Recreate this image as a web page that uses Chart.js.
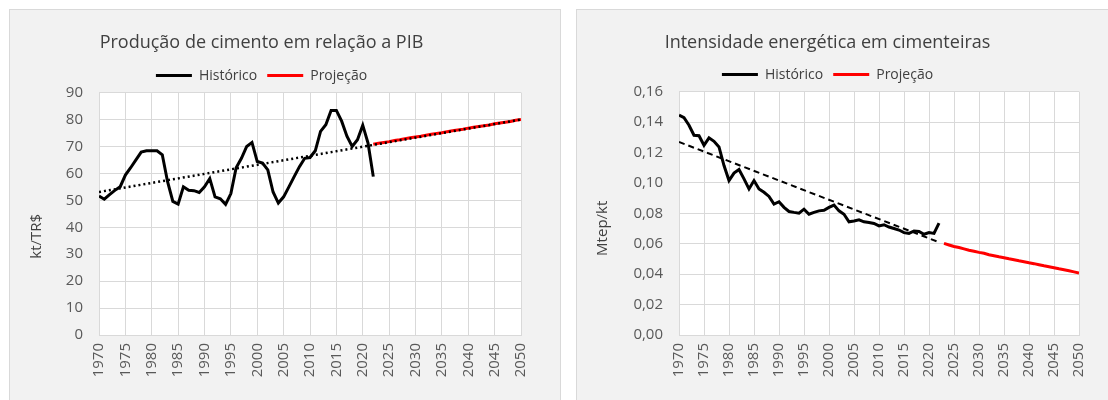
<!DOCTYPE html>
<html>
<head>
<meta charset="utf-8">
<script src="https://cdn.jsdelivr.net/npm/chart.js@4.4.1/dist/chart.umd.min.js"></script>
<style>
    html, body { margin: 0; padding: 0; background: #fff; width: 1108px; height: 400px; overflow: hidden; }
    .panel { position: absolute; top: 9px; height: 430px; background: #f2f2f2; border: 1px solid #d9d9d9; box-sizing: border-box; }
    #p1 { left: 9px; width: 552px; }
    #p2 { left: 576px; width: 560px; }
    canvas { position: absolute; top: 0; }
    #c1 { left: 2px; }
    #c2 { left: 576px; }
</style>
</head>
<body>
<div class="panel" id="p1"></div>
<div class="panel" id="p2"></div>
<canvas id="c1" width="526" height="400"></canvas>
<canvas id="c2" width="520" height="400"></canvas>
<script>
// anos do histórico e da projeção
const anoInicio = 1970;
const histAnos = Array.from({ length: 53 }, (_, i) => anoInicio + i);   // 1970..2022

// Produção de cimento / PIB (kt/TR$)
const cimentoHist = [
    51.6, 50.4, 52.1, 53.7, 55.0, 59.4, 62.1, 65.0, 67.9, 68.4,
    68.4, 68.4, 66.9, 56.9, 49.6, 48.6, 55.0, 53.7, 53.6, 52.9,
    55.0, 58.1, 51.3, 50.6, 48.5, 52.5, 62.1, 65.6, 70.0, 71.5,
    64.4, 63.8, 61.3, 53.1, 49.0, 51.3, 55.0, 58.8, 62.5, 65.6,
    65.9, 68.4, 75.6, 78.1, 83.4, 83.4, 79.4, 73.8, 70.0, 72.5,
    77.9, 71.3, 58.8
];
const cimentoProjAnos = Array.from({ length: 29 }, (_, i) => 2022 + i);  // 2022..2050
const cimentoProj = [
    70.8, 71.2, 71.5, 71.8, 72.2, 72.5, 72.9, 73.2, 73.5, 73.8,
    74.2, 74.5, 74.8, 75.1, 75.5, 75.8, 76.1, 76.4, 76.8, 77.1,
    77.4, 77.7, 78.0, 78.4, 78.7, 79.0, 79.3, 79.7, 80.0
];
const cimentoTendAnos = [1970, 2050];
const cimentoTend = [53.1, 80.0];

// Intensidade energética (Mtep/kt)
const intensHist = [
    0.1445, 0.1428, 0.1379, 0.1313, 0.1310, 0.1247, 0.1296, 0.1273, 0.1236, 0.1114,
    0.1015, 0.1064, 0.1088, 0.1026, 0.0960, 0.1015, 0.0960, 0.0938, 0.0911, 0.0861,
    0.0876, 0.0839, 0.0812, 0.0806, 0.0801, 0.0827, 0.0794, 0.0806, 0.0816, 0.0820,
    0.0839, 0.0854, 0.0816, 0.0794, 0.0744, 0.0750, 0.0757, 0.0744, 0.0739, 0.0733,
    0.0717, 0.0725, 0.0710, 0.0700, 0.0690, 0.0673, 0.0668, 0.0684, 0.0680, 0.0662,
    0.0673, 0.0668, 0.0735
];
const intensProjAnos = Array.from({ length: 28 }, (_, i) => 2023 + i);  // 2023..2050
const intensProj = [
    0.0602, 0.0592, 0.0582, 0.0575, 0.0566, 0.0557, 0.0551, 0.0543, 0.0537, 0.0528,
    0.0521, 0.0514, 0.0508, 0.0501, 0.0495, 0.0488, 0.0482, 0.0475, 0.0469, 0.0462,
    0.0455, 0.0449, 0.0442, 0.0435, 0.0429, 0.0422, 0.0415, 0.0408
];
const intensTendAnos = [1970, 2022];
const intensTend = [0.1269, 0.0610];

const xTicks = { min: 1970, max: 2050, step: 5 };

Chart.defaults.font.family = "'Open Sans', sans-serif";
Chart.defaults.color = '#595959';

const pontos = (xs, ys) => xs.map((x, i) => ({ x: x, y: ys[i] }));

// fundo branco da área de plotagem
const fundoPlot = {
    id: 'fundoPlot',
    beforeDraw(chart) {
        const { ctx, chartArea: a } = chart;
        ctx.save();
        ctx.fillStyle = '#ffffff';
        ctx.fillRect(a.left, a.top, a.width, a.height);
        ctx.restore();
    }
};

function createChart(canvas, cfg) {
    const grid = { color: '#d9d9d9', drawTicks: false };
    return new Chart(canvas, {
        type: 'line',
        data: {
            datasets: [
                {
                    label: '',
                    data: pontos(cfg.tendAnos, cfg.tend),
                    borderColor: '#000',
                    borderWidth: cfg.tendWidth,
                    borderDash: cfg.tendDash,
                    pointRadius: 0,
                    order: 0
                },
                {
                    label: 'Histórico',
                    data: pontos(histAnos, cfg.hist),
                    borderColor: '#000',
                    backgroundColor: '#000',
                    borderWidth: 3,
                    pointRadius: 0,
                    order: 1
                },
                {
                    label: 'Projeção',
                    data: pontos(cfg.projAnos, cfg.proj),
                    borderColor: '#ff0000',
                    backgroundColor: '#ff0000',
                    borderWidth: 3,
                    pointRadius: 0,
                    order: 2
                }
            ]
        },
        options: {
            responsive: false,
            animation: false,
            layout: { padding: { top: 0, left: 0, bottom: 0, right: cfg.padRight } },
            plugins: {
                title: {
                    display: true,
                    text: cfg.titulo,
                    color: '#404040',
                    font: { size: 18, weight: 'normal' },
                    padding: { top: 32, bottom: cfg.titleBottom }
                },
                legend: {
                    labels: {
                        filter: (item) => item.text !== '',
                        boxWidth: 36,
                        boxHeight: 0,
                        padding: 10,
                        color: '#404040',
                        font: { size: 14 }
                    }
                },
                tooltip: { enabled: false }
            },
            scales: {
                x: {
                    type: 'linear',
                    min: xTicks.min,
                    max: xTicks.max,
                    grid: grid,
                    border: { color: '#d9d9d9' },
                    ticks: {
                        stepSize: xTicks.step,
                        minRotation: 90,
                        maxRotation: 90,
                        padding: 8,
                        font: { size: 15 },
                        callback: (v) => String(v)
                    },
                    afterFit(scale) {
                        scale.height = 65;
                        scale.paddingLeft = 0;
                        scale.paddingRight = 0;
                    }
                },
                y: {
                    min: 0,
                    max: cfg.yMax,
                    grid: grid,
                    border: { color: '#d9d9d9' },
                    title: {
                        display: true,
                        // espaços no fim deslocam o título para baixo, como no original
                        text: cfg.yTitulo + cfg.yTituloDesloc,
                        color: '#404040',
                        font: { size: 15 },
                        padding: { top: cfg.yTitlePad, bottom: 0 }
                    },
                    ticks: {
                        stepSize: cfg.yStep,
                        padding: 16,
                        font: { size: 15 },
                        callback: cfg.yFmt
                    },
                    afterFit(scale) {
                        scale.width = cfg.yWidth;
                        scale.paddingTop = 0;
                        scale.paddingBottom = 0;
                    }
                }
            }
        },
        plugins: [fundoPlot]
    });
}

createChart(document.getElementById('c1'), {
    titulo: 'Produção de cimento em relação a PIB',
    yTitulo: 'kt/TR$',
    yTituloDesloc: '\u2002\u2002\u2002\u2002\u2002\u2002',
    hist: cimentoHist,
    projAnos: cimentoProjAnos,
    proj: cimentoProj,
    tendAnos: cimentoTendAnos,
    tend: cimentoTend,
    tendDash: [2, 3],
    tendWidth: 2.5,
    yMax: 90,
    yStep: 10,
    yFmt: (v) => String(v),
    yWidth: 97,
    yTitlePad: 26,
    padRight: 7,
    titleBottom: 5
});

createChart(document.getElementById('c2'), {
    titulo: 'Intensidade energética em cimenteiras',
    yTitulo: 'Mtep/kt',
    yTituloDesloc: '\u2002\u2002\u2002\u2002',
    hist: intensHist,
    projAnos: intensProjAnos,
    proj: intensProj,
    tendAnos: intensTendAnos,
    tend: intensTend,
    tendDash: [6, 4],
    tendWidth: 2,
    yMax: 0.16,
    yStep: 0.02,
    yFmt: (v) => v.toFixed(2).replace('.', ','),
    yWidth: 103,
    yTitlePad: 18,
    padRight: 17,
    titleBottom: 4
});
</script>
</body>
</html>
